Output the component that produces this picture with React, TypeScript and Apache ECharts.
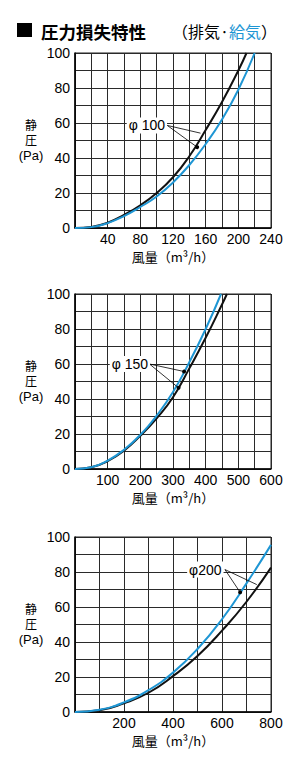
import React, { useEffect, useRef } from "react";
import * as echarts from "echarts";

// ---- data ----
// φ100
const d100ExhaustQ = [0, 20, 40, 60, 80, 100, 120, 140, 160, 180, 200, 210];
const d100ExhaustP = [0, 0.6, 3, 7.5, 13, 20, 29, 41, 56, 72, 90, 100];
const d100SupplyQ = [0, 20, 40, 60, 80, 100, 120, 140, 160, 180, 200, 220];
const d100SupplyP = [0, 0.5, 2.8, 6.8, 12, 18, 26, 36, 48, 62, 79, 100];
// φ150
const d150ExhaustQ = [0, 50, 100, 150, 200, 250, 300, 350, 400, 450, 465];
const d150ExhaustP = [0, 1, 4.5, 10.5, 19, 29, 41, 57.5, 75, 94, 100];
const d150SupplyQ = [0, 50, 100, 150, 200, 250, 300, 350, 400, 447];
const d150SupplyP = [0, 1, 4.8, 11, 19.5, 30.5, 44, 61, 80, 100];
// φ200
const d200Q = [0, 100, 200, 300, 400, 500, 600, 700, 800];
const d200ExhaustP = [0, 1, 5, 11, 20.5, 32, 46.5, 63, 82.5];
const d200SupplyP = [0, 1.3, 5.5, 12.5, 22.5, 36, 53, 73.5, 95.5];

// axes
const xMax = [240, 600, 800];
const xStep = [20, 50, 100];
const xLabelStep = [40, 100, 200];
const yMax = 100;
const yStep = 10;
const yLabelStep = 20;

// annotations (data coordinates)
const labels = ["φ 100", "φ 150", "φ200"];
const labelPos = [[88, 58.6], [168, 60], [532, 81.4]];
const leaderStart = [[113, 58.6], [228, 60], [612, 81.4]];
const leaderEndA = [[153.7, 54.2], [334, 55.7], [742, 72.8]];
const leaderEndB = [[149.6, 46.2], [317, 46.4], [674, 68.4]];
const dotA = [false, true, false];
const dotB = [true, true, true];

const yNameLines = ["静", "圧", "(Pa)"];
const yNameOffsets = [73, 87.5, 102.5];
const yNameSizes = [12, 12, 13];

const BLUE = "#1e96d4";
const BLACK = "#111111";
const GRID_TOPS = [53, 294, 537];
const GRID_LEFT = 75;
const GRID_W = 196;
const GRID_H = 175;
const NUM_FONT = "Liberation Sans";
const JP_FONT = "Noto Sans CJK JP";

const pairs = (q: number[], p: number[]) => q.map((v, i) => [v, p[i]]);

export default function App() {
  const ref = useRef<HTMLDivElement>(null);
  useEffect(() => {
    document.body.style.margin = "0";
    const chart = echarts.init(ref.current!, null, { renderer: "svg" });

    const seriesData = [
      [pairs(d100ExhaustQ, d100ExhaustP), pairs(d100SupplyQ, d100SupplyP)],
      [pairs(d150ExhaustQ, d150ExhaustP), pairs(d150SupplyQ, d150SupplyP)],
      [pairs(d200Q, d200ExhaustP), pairs(d200Q, d200SupplyP)],
    ];

    const grids = GRID_TOPS.map((t) => ({
      left: GRID_LEFT,
      top: t,
      width: GRID_W,
      height: GRID_H,
      show: true,
      borderColor: "#222",
      borderWidth: 1,
    }));

    const xAxes = [0, 1, 2].map((i) => ({
      gridIndex: i,
      type: "value",
      min: 0,
      max: xMax[i],
      interval: xStep[i],
      axisLine: { show: true, lineStyle: { color: "#000", width: 1.5 } },
      axisTick: { show: false },
      splitLine: { show: true, lineStyle: { color: "#2a2a2a", width: 1 } },
      axisLabel: {
        margin: 4,
        color: "#000",
        fontSize: 14,
        fontFamily: NUM_FONT,
        formatter: (v: number) => (v > 0 && v % xLabelStep[i] === 0 ? String(v) : ""),
      },
      name: "風量（m³/h）",
      nameLocation: "middle",
      nameGap: 22,
      nameTextStyle: { color: "#000", fontSize: 13, fontFamily: JP_FONT },
    }));

    const yAxes = [0, 1, 2].map((i) => ({
      gridIndex: i,
      type: "value",
      min: 0,
      max: yMax,
      interval: yStep,
      axisLine: { show: true, lineStyle: { color: "#000", width: 1.5 } },
      axisTick: { show: false },
      splitLine: { show: true, lineStyle: { color: "#2a2a2a", width: 1 } },
      axisLabel: {
        margin: 5,
        color: "#000",
        fontSize: 14,
        fontFamily: NUM_FONT,
        formatter: (v: number) => (v % yLabelStep === 0 ? String(v) : ""),
      },
    }));

    const series: any[] = [];
    [0, 1, 2].forEach((i) => {
      series.push({
        type: "line",
        xAxisIndex: i,
        yAxisIndex: i,
        data: seriesData[i][0],
        smooth: true,
        showSymbol: false,
        lineStyle: { color: BLACK, width: 2 },
        itemStyle: { color: BLACK },
        z: 3,
        markLine: {
          silent: true,
          symbol: ["none", "none"],
          lineStyle: { color: "#000", width: 0.8, type: "solid" },
          label: { show: false },
          emphasis: { disabled: true },
          data: [
            [
              { coord: leaderStart[i], symbol: "none" },
              { coord: leaderEndA[i], symbol: dotA[i] ? "circle" : "none", symbolSize: 4 },
            ],
            [
              { coord: leaderStart[i], symbol: "none" },
              { coord: leaderEndB[i], symbol: dotB[i] ? "circle" : "none", symbolSize: 4 },
            ],
          ],
        },
        markPoint: {
          symbol: "rect",
          symbolSize: 1,
          silent: true,
          itemStyle: { color: "rgba(0,0,0,0)" },
          label: {
            show: true,
            position: "inside",
            formatter: labels[i],
            color: "#000",
            fontSize: 14,
            fontFamily: NUM_FONT,
            backgroundColor: "#fff",
            padding: [1, 2],
          },
          data: [{ coord: labelPos[i] }],
        },
      });
      series.push({
        type: "line",
        xAxisIndex: i,
        yAxisIndex: i,
        data: seriesData[i][1],
        smooth: true,
        showSymbol: false,
        lineStyle: { color: BLUE, width: 2 },
        itemStyle: { color: BLUE },
        z: 4,
      });
    });

    const graphic: any[] = [
      { type: "rect", shape: { x: 17, y: 23, width: 15, height: 14 }, style: { fill: "#000" } },
      {
        type: "text",
        x: 41,
        y: 31,
        style: {
          text: "圧力損失特性",
          fill: "#000",
          fontSize: 17.5,
          fontWeight: "bold",
          fontFamily: JP_FONT,
          align: "left",
          verticalAlign: "middle",
        },
      },
      {
        type: "text",
        x: 277,
        y: 31,
        style: {
          text: "{a|（排気·}{b|給気}{a|）}",
          rich: {
            a: { fill: "#000", fontSize: 16, fontFamily: JP_FONT },
            b: { fill: BLUE, fontSize: 16, fontFamily: JP_FONT },
          },
          align: "right",
          verticalAlign: "middle",
        },
      },
    ];
    GRID_TOPS.forEach((t) => {
      yNameLines.forEach((line, k) => {
        graphic.push({
          type: "text",
          x: 31,
          y: t + yNameOffsets[k],
          style: {
            text: line,
            fill: "#000",
            fontSize: yNameSizes[k],
            fontFamily: "Liberation Sans, Noto Sans CJK JP",
            align: "center",
            verticalAlign: "middle",
          },
        });
      });
    });

    chart.setOption({
      animation: false,
      backgroundColor: "#fff",
      grid: grids,
      xAxis: xAxes,
      yAxis: yAxes,
      series,
      graphic,
    });
    return () => chart.dispose();
  }, []);
  return <div ref={ref} style={{ width: 300, height: 767 }} />;
}
